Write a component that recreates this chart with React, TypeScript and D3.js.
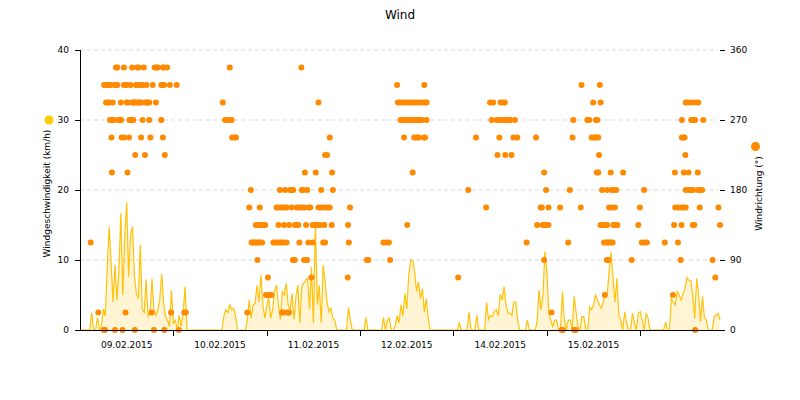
import React from "react";
import * as d3 from "d3";

// ---- data ----
const dayLabels = ["09.02.2015", "10.02.2015", "11.02.2015", "12.02.2015", "14.02.2015", "15.02.2015"];
const speedTicks = [0, 10, 20, 30, 40];
const dirTicks = [0, 90, 180, 270, 360];

// wind speed (km/h), one value per half hour
const speed09 = [0,0,0,0,0,0,2.5,0,0,1.8,0,0.5, 3,2,9,14.7,9.5,4,9.3,4.3,8.4,16.7,5,13.3, 18.2,7.6,13.6,14.8,7.6,5.2,4.5,12.2,3,2.5,7.2,1.9, 2.4,7.3,2.9,2.1,2.9,4.3,8,3.8,1.9,1.4,0.5,5.7];
const speed10 = [1,1.4,0,2.1,0.5,2.4,6.2,0,0,0,0,0, 0,0,0,0,0,0,0,0,0,0,0,0, 0,0,2.1,2.9,2.5,3.6,2.9,3.1,2,0,0,0, 0,0,1.4,4.3,1.7,3.6,3.8,6.4,4,7.9,3.6,1.7];
const speed11 = [3.3,4.8,1.7,2.9,5.5,6.4,3.6,1.5,5.5,5,6.7,3.6, 2.9,5.2,1.5,4.8,6.4,1,6.2,6.7,7.1,7.4,3,9, 1,15.5,3.6,6.4,1,9.3,6.9,4,2.6,3.1,1.7,1.4, 0,0,0,0,0,0,3.2,1.4,0,0,0,0];
const speed12 = [0,0,0,1.8,0,0,0,0,0,0,0,0, 1.8,0,1.4,1.7,0,0,0.5,2.1,1,3.6,2,5.2, 3,7.9,10,10,8.3,5.5,6.9,4.5,5.9,2.6,4.5,1.7, 0,0,0,0,0,0,0,0,0,0,0,0];
const speed14 = [0,0,0,1,0,0,0,0,2.6,0,0,0, 2.1,0,0,0,0,4,1.5,2.1,1.9,2.7,2.9,2, 5.1,4.3,6.2,3.6,2.4,2.4,2.1,4,4,1.4,0,0, 0,0,1.4,0,0,0,0,1.2,5.7,2.9,5,11.2];
const speed15 = [8.3,2.4,1.4,0.5,1.4,1.4,0,0,5.5,1.4,0,1.4, 1.4,0,4.8,2.6,0.5,0,1.9,1.9,0,0,3.3,2.9, 3.6,5,4.3,3.6,3.1,4,5.2,5,8.3,11.1,7.4,4, 7.4,2.1,1.4,0,2.6,1,0,0,2.4,1,0,2.4];
const speed16 = [2.6,1.4,0,2.4,1.7,0,0,0,0,0,0,0, 0,1,0,0,4.5,4,3.6,5.5,5,4.3,5.2,5.9, 7.5,7.1,7,5,1.7,7.4,5,1.2,4.8,1.7,1.4,0, 0,0,1.9,2.1,2.4,1.4];

// wind direction (deg) -> hours of the day with that reading
type Row = [number, number[]];
const dir09: Row[] = [
  [337.5, [9.25,9.6,11.3,13.4,14.7,15.1,16.4,19.2,19.7,20.0,21.3,21.6,22.4]],
  [315, [6.2,6.5,6.9,7.2,7.5,7.9,8.9,9.3,9.6,11.3,11.6,12.0,13.0,14.4,14.7,15.1,15.8,16.1,17.1,18.7,20.9,21.3,21.6,23.1]],
  [292.5, [6.7,7.0,7.4,8.4,10.5,12.0,12.3,13.4,13.7,14.1,14.4,14.7,15.1,15.4,15.8,16.8,17.1,17.5,17.8,19.5]],
  [270, [7.7,8.0,8.4,8.7,9.9,10.3,10.6,12.7,13.0,13.4,13.7,16.1,17.8,20.9]],
  [247.5, [8.1,10.7,11.3,12.6,15.7,18.1,21.3]],
  [225, [14.2,16.7,21.8]],
  [202.5, [8.2,12.2]],
  [112.5, [2.75]],
  [22.5, [4.7,11.7,18.4,23.4]],
  [0, [6.1,6.4,9.0,10.9,14.1,19.0,21.7]],
];
const dir10: Row[] = [
  [337.5, [14.5]],
  [315, [0.85]],
  [292.5, [12.7]],
  [270, [13.3,14.1,14.5,15.0]],
  [247.5, [15.1,15.7,16.1]],
  [180, [19.9]],
  [157.5, [19.5,22.2]],
  [135, [21.2,21.6,21.9,22.3,22.6,23.0,23.3,23.6]],
  [112.5, [20.1,20.4,20.8,21.2,21.6,22.0,22.4,22.8]],
  [90, [21.6]],
  [45, [23.8]],
  [22.5, [2.8,3.2,19.0]],
  [0, [1.4]],
];
const dir11: Row[] = [
  [337.5, [8.9]],
  [292.5, [13.3]],
  [247.5, [16.2]],
  [225, [15.0,15.5]],
  [202.5, [9.8,12.6,16.8]],
  [180, [3.4,4.7,6.0,6.4,6.8,9.0,9.4,10.4,14.0,17.0]],
  [157.5, [2.5,3.1,3.8,4.4,5.1,6.4,7.7,8.3,9.0,9.6,10.7,11.2,13.3,13.8,14.4,15.0,15.7,16.2,21.4]],
  [135, [3.0,4.4,5.7,7.2,7.7,8.1,10.1,11.8,12.2,12.6,13.2,13.7,14.8,16.7,20.9]],
  [112.5, [1.7,2.2,2.75,3.3,3.8,4.3,5.1,8.4,10.7,11.8,14.5,15.0,21.1]],
  [90, [6.7,7.0,7.2,9.6,10.0,10.4]],
  [67.5, [0.3,11.5,20.8]],
  [45, [0.3,0.75,1.2]],
  [22.5, [3.9,4.3,5.3,5.7]],
];
const dir12: Row[] = [
  [315, [9.5,16.5]],
  [292.5, [9.7,10.3,10.9,11.5,12.2,12.8,13.4,14.1,14.8,15.4,16.1,16.7,17.1]],
  [270, [10.4,10.8,11.1,11.5,11.8,12.1,12.5,12.8,13.2,13.5,13.9,14.2,14.5,14.9,15.2,15.6,15.9,17.1]],
  [247.5, [11.3,13.9,14.3,14.7,15.1,16.4,16.7]],
  [202.5, [13.5]],
  [135, [12.1]],
  [112.5, [6.0,6.8,7.4]],
  [90, [1.7,2.1,7.7]],
];
const dir14: Row[] = [
  [292.5, [9.4,10.2,12.1,12.6,13.2]],
  [270, [9.8,11.1,12.0,12.3,12.7,13.1,13.5,13.9,14.3,14.6,15.8]],
  [247.5, [5.8,11.8,15.4,16.4,21.2]],
  [225, [11.3,13.3,14.9]],
  [202.5, [23.3]],
  [180, [3.8,23.8]],
  [157.5, [8.4,22.4,22.7]],
  [135, [21.5,22.9,23.3,23.7]],
  [112.5, [18.8]],
  [90, [23.3]],
  [67.5, [1.2]],
];
const dir15: Row[] = [
  [315, [8.9,13.6]],
  [292.5, [11.9,13.8]],
  [270, [6.8,10.4,10.9,12.6,13.0]],
  [247.5, [6.6,11.5,11.9,12.4,12.8,13.2]],
  [225, [13.4]],
  [202.5, [12.8,13.2,16.4,19.6]],
  [180, [5.9,14.2,15.5,16.7,17.2,17.8]],
  [157.5, [0.4,3.4,8.7,16.0,16.5,17.5,23.9]],
  [135, [0.4,13.8,14.2,14.7,15.1,15.5,17.1,17.5,18.1,23.5]],
  [112.5, [5.5,14.7,15.2,15.7,16.0,16.4,16.9]],
  [90, [15.4,15.8,21.8]],
  [45, [14.9]],
  [22.5, [1.2]],
  [0, [3.8,4.1,7.0,7.4]],
];
const dir16: Row[] = [
  [292.5, [11.7,12.3,13.2,14.3,14.9]],
  [270, [10.7,13.1,13.6,14.1,16.2]],
  [247.5, [10.7,11.1,11.4]],
  [225, [11.6]],
  [202.5, [8.9,11.2,12.4,14.8]],
  [180, [1.0,11.7,12.3,13.0,13.6,14.9,15.5,15.9]],
  [157.5, [9.0,9.7,10.4,11.1,11.7,15.3,20.1]],
  [135, [8.7,10.6,13.5,13.9,20.5]],
  [112.5, [0.4,1.1,1.7,6.3,9.7]],
  [90, [10.4,18.6]],
  [67.5, [19.3]],
  [45, [8.4]],
  [0, [14.1]],
];

const speedDays = [speed09, speed10, speed11, speed12, speed14, speed15, speed16];
const dirDays = [dir09, dir10, dir11, dir12, dir14, dir15, dir16];

// ---- layout ----
const W = 800, H = 400;
const left = 80, right = 720, top = 50, bottom = 330;
const FONT = "DejaVu Sans, Verdana, sans-serif";
const YELLOW = "#ffc20a";
const ORANGE = "#ff8a00";

export default function App() {
  const speedPts = speedDays.flatMap((arr, d) => arr.map((v, i) => ({ t: d + (i * 0.5) / 24, v })));
  const dirPts = dirDays.flatMap((rows, d) =>
    rows.flatMap(([deg, hours]) => hours.map((h) => ({ t: d + h / 24, deg })))
  );
  const tMax = d3.max(speedPts, (p) => p.t) as number;

  const x = d3.scaleLinear().domain([0, tMax]).range([left, right]);
  const yL = d3.scaleLinear().domain([0, 40]).range([bottom, top]);
  const yR = d3.scaleLinear().domain([0, 360]).range([bottom, top]);

  const area = d3.area<{ t: number; v: number }>().x((p) => x(p.t)).y0(yL(0)).y1((p) => yL(p.v));
  const line = d3.line<{ t: number; v: number }>().x((p) => x(p.t)).y((p) => yL(p.v));

  const dayTicks = d3.range(1, speedDays.length);

  return (
    <svg width={W} height={H} style={{ position: "absolute", left: 0, top: 0, background: "#fff" }} fontFamily={FONT}>
      <rect x={0} y={0} width={W} height={H} fill="#fff" />
      <text x={400} y={19} textAnchor="middle" fontSize={12} fill="#000">Wind</text>

      {/* grid */}
      {speedTicks.filter((t) => t > 0).map((t) => (
        <line key={"g" + t} x1={left} x2={right - 2} y1={yL(t)} y2={yL(t)} stroke="#d9d9d9" strokeDasharray="4,3" strokeWidth={1} />
      ))}

      {/* speed series */}
      <path d={area(speedPts) || ""} fill={YELLOW} fillOpacity={0.18} stroke="none" />
      <path d={line(speedPts) || ""} fill="none" stroke={YELLOW} strokeWidth={1.2} strokeLinejoin="miter" />

      {/* direction series */}
      {dirPts.map((p, i) => (
        <circle key={"d" + i} cx={Math.min(x(p.t), right)} cy={yR(p.deg)} r={3} fill={ORANGE} />
      ))}

      {/* axes */}
      <line x1={left + 0.5} x2={left + 0.5} y1={top} y2={bottom} stroke="#000" />
      <line x1={left} x2={right} y1={bottom + 0.5} y2={bottom + 0.5} stroke="#000" />
      {speedTicks.map((t) => (
        <g key={"l" + t}>
          <line x1={left - 5} x2={left} y1={Math.round(yL(t)) + 0.5} y2={Math.round(yL(t)) + 0.5} stroke="#000" />
          <text x={69} y={yL(t)} dy="0.35em" textAnchor="end" fontSize={9} fill="#000">{t}</text>
        </g>
      ))}
      {dirTicks.map((t) => (
        <g key={"r" + t}>
          <line x1={right} x2={right + 5} y1={Math.round(yR(t)) + 0.5} y2={Math.round(yR(t)) + 0.5} stroke="#000" />
          <text x={730} y={yR(t)} dy="0.35em" textAnchor="start" fontSize={9} fill="#000">{t}</text>
        </g>
      ))}
      {dayTicks.map((d) => (
        <line key={"t" + d} x1={Math.round(x(d)) + 0.5} x2={Math.round(x(d)) + 0.5} y1={bottom} y2={bottom + 6} stroke="#000" />
      ))}
      {dayLabels.map((lab, i) => (
        <text key={lab} x={x(i + 0.5)} y={348} textAnchor="middle" fontSize={9} fill="#000">{lab}</text>
      ))}

      {/* axis titles with series markers */}
      <circle cx={49} cy={120} r={4.5} fill="#ffcc00" />
      <text transform="translate(49.5,193.5) rotate(-90)" textAnchor="middle" fontSize={9} fill="#000">Windgeschwindigkeit (km/h)</text>
      <circle cx={755.5} cy={146.5} r={4.5} fill={ORANGE} />
      <text transform="translate(761.5,193.5) rotate(-90)" textAnchor="middle" fontSize={9} fill="#000">Windrichtung (°)</text>
    </svg>
  );
}
